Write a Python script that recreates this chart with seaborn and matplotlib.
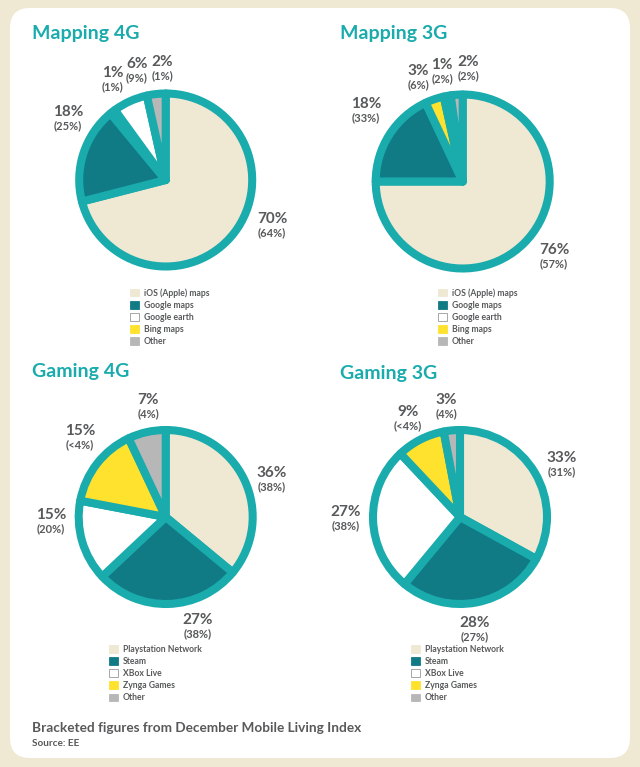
from __future__ import annotations

import matplotlib

matplotlib.use("Agg")

import matplotlib.pyplot as plt
import seaborn as sns
from matplotlib.patches import FancyBboxPatch, Patch

WIDTH, HEIGHT = 640, 767

MAPPING_NAMES = ["iOS (Apple) maps", "Google maps", "Google earth", "Bing maps", "Other"]
GAMING_NAMES = ["Playstation Network", "Steam", "XBox Live", "Zynga Games", "Other"]

# printed figures, clockwise from 12 o'clock (Bing comes before earth in the mapping pies)
MAPPING_4G_LABELS = ["70", "18", "1", "6", "2"]
MAPPING_4G_DEC = ["64", "25", "1", "9", "1"]
MAPPING_3G_LABELS = ["76", "18", "3", "1", "2"]
MAPPING_3G_DEC = ["57", "33", "6", "2", "2"]
GAMING_4G_LABELS = ["36", "27", "15", "15", "7"]
GAMING_4G_DEC = ["38", "38", "20", "<4", "4"]
GAMING_3G_LABELS = ["33", "28", "27", "9", "3"]
GAMING_3G_DEC = ["31", "27", "38", "<4", "4"]

# slice sizes as drawn (the mapping ones don't quite follow the print)
MAPPING_4G_SHARES = [71, 18, 1, 6.5, 3.5]
MAPPING_3G_SHARES = [75, 18, 3.5, 1.3, 2.2]
GAMING_4G_SHARES = [36, 27, 15, 15, 7]
GAMING_3G_SHARES = [33, 28, 27, 9, 3]

CREAM = "#efe8d3"
TEAL = "#1aabad"
DARK_TEAL = "#117b85"
YELLOW = "#ffe22e"
GREY = "#b7b7b7"
TEXT = "#58595b"
LEGEND_COLORS = sns.color_palette([CREAM, DARK_TEAL, "#ffffff", YELLOW, GREY])
MAPPING_SLICE_COLORS = [CREAM, DARK_TEAL, YELLOW, "#ffffff", GREY]
GAMING_SLICE_COLORS = [CREAM, DARK_TEAL, "#ffffff", YELLOW, GREY]

# layout in pixels: title, pie centre and radius, legend corner, label centres clockwise
PANELS = [
    {
        "title": "Mapping 4G", "title_xy": (32, 33), "center": (165.7, 180), "radius": 86.5,
        "legend_xy": (130, 288), "names": MAPPING_NAMES, "shares": MAPPING_4G_SHARES,
        "pct": MAPPING_4G_LABELS, "dec": MAPPING_4G_DEC, "colors": MAPPING_SLICE_COLORS,
        "labels": [(272, 219), (68, 112), (113, 73), (137, 64), (162, 62)],
    },
    {
        "title": "Mapping 3G", "title_xy": (340, 33), "center": (462.7, 181.5), "radius": 87,
        "legend_xy": (438, 288), "names": MAPPING_NAMES, "shares": MAPPING_3G_SHARES,
        "pct": MAPPING_3G_LABELS, "dec": MAPPING_3G_DEC, "colors": MAPPING_SLICE_COLORS,
        "labels": [(554, 250), (366, 104), (418, 71), (442, 65), (468, 62)],
    },
    {
        "title": "Gaming 4G", "title_xy": (32, 372), "center": (165.7, 517), "radius": 87,
        "legend_xy": (109, 645), "names": GAMING_NAMES, "shares": GAMING_4G_SHARES,
        "pct": GAMING_4G_LABELS, "dec": GAMING_4G_DEC, "colors": GAMING_SLICE_COLORS,
        "labels": [(272, 473), (198, 620), (51, 515), (80, 431), (148, 400)],
    },
    {
        "title": "Gaming 3G", "title_xy": (340, 373), "center": (460, 517), "radius": 87,
        "legend_xy": (411, 645), "names": GAMING_NAMES, "shares": GAMING_3G_SHARES,
        "pct": GAMING_3G_LABELS, "dec": GAMING_3G_DEC, "colors": GAMING_SLICE_COLORS,
        "labels": [(562, 458), (475, 623), (346, 512), (408, 412), (446, 400)],
    },
]


def draw_background(fig):
    canvas = fig.add_axes([0, 0, 1, 1])
    canvas.set_xlim(0, WIDTH)
    canvas.set_ylim(HEIGHT, 0)
    canvas.axis("off")
    canvas.add_patch(
        FancyBboxPatch(
            (24, 22),
            592,
            722,
            boxstyle="round,pad=14,rounding_size=20",
            facecolor="white",
            edgecolor="none",
        )
    )
    return canvas


def draw_pie(fig, panel):
    cx, cy = panel["center"]
    radius = panel["radius"]
    rect = [
        (cx - radius) / WIDTH,
        1 - (cy + radius) / HEIGHT,
        2 * radius / WIDTH,
        2 * radius / HEIGHT,
    ]
    ax = fig.add_axes(rect)
    ax.patch.set_alpha(0)
    ax.pie(
        panel["shares"],
        colors=panel["colors"],
        startangle=90,
        counterclock=False,
        radius=1,
        wedgeprops={
            "edgecolor": TEAL,
            "linewidth": 5.8,
            "joinstyle": "round",
            "clip_on": False,
        },
    )
    ax.set_xlim(-1, 1)
    ax.set_ylim(-1, 1)


def draw_labels(canvas, panel):
    for pct, dec, (x, y) in zip(panel["pct"], panel["dec"], panel["labels"]):
        canvas.text(x, y, f"{pct}%", ha="center", va="center", color=TEXT,
                    fontsize=11, fontweight="bold")
        canvas.text(x, y + 14, f"({dec}%)", ha="center", va="center", color=TEXT,
                    fontsize=8, fontweight="bold")
    canvas.text(*panel["title_xy"], panel["title"], ha="left", va="center", color=TEAL,
                fontsize=14, fontweight="bold")


def draw_legend(fig, panel):
    handles = [
        Patch(facecolor=color, edgecolor="#999999" if i == 2 else color, linewidth=0.6, label=name)
        for i, (color, name) in enumerate(zip(LEGEND_COLORS, panel["names"]))
    ]
    x, y = panel["legend_xy"]
    legend = fig.legend(
        handles=handles,
        loc="upper left",
        bbox_to_anchor=(x / WIDTH, 1 - y / HEIGHT),
        frameon=False,
        fontsize=6.2,
        handlelength=1.0,
        handleheight=1.0,
        handletextpad=0.6,
        labelspacing=0.36,
        borderpad=0,
        borderaxespad=0,
    )
    for text in legend.get_texts():
        text.set_color(TEXT)
        text.set_fontweight("bold")


def main():
    sns.set_theme(style="white")
    plt.rcParams["font.family"] = ["Lato", "DejaVu Sans"]

    fig = plt.figure(figsize=(WIDTH / 100, HEIGHT / 100), dpi=100, facecolor=CREAM)
    canvas = draw_background(fig)

    for panel in PANELS:
        draw_pie(fig, panel)
        draw_labels(canvas, panel)
        draw_legend(fig, panel)

    canvas.text(32, 728, "Bracketed figures from December Mobile Living Index", ha="left",
                va="center", color=TEXT, fontsize=9.8, fontweight="bold")
    canvas.text(32, 744, "Source: EE", ha="left", va="center", color=TEXT,
                fontsize=7.2, fontweight="bold")

    fig.savefig("out.png", dpi=100, facecolor=CREAM)
    plt.close(fig)


if __name__ == "__main__":
    main()
